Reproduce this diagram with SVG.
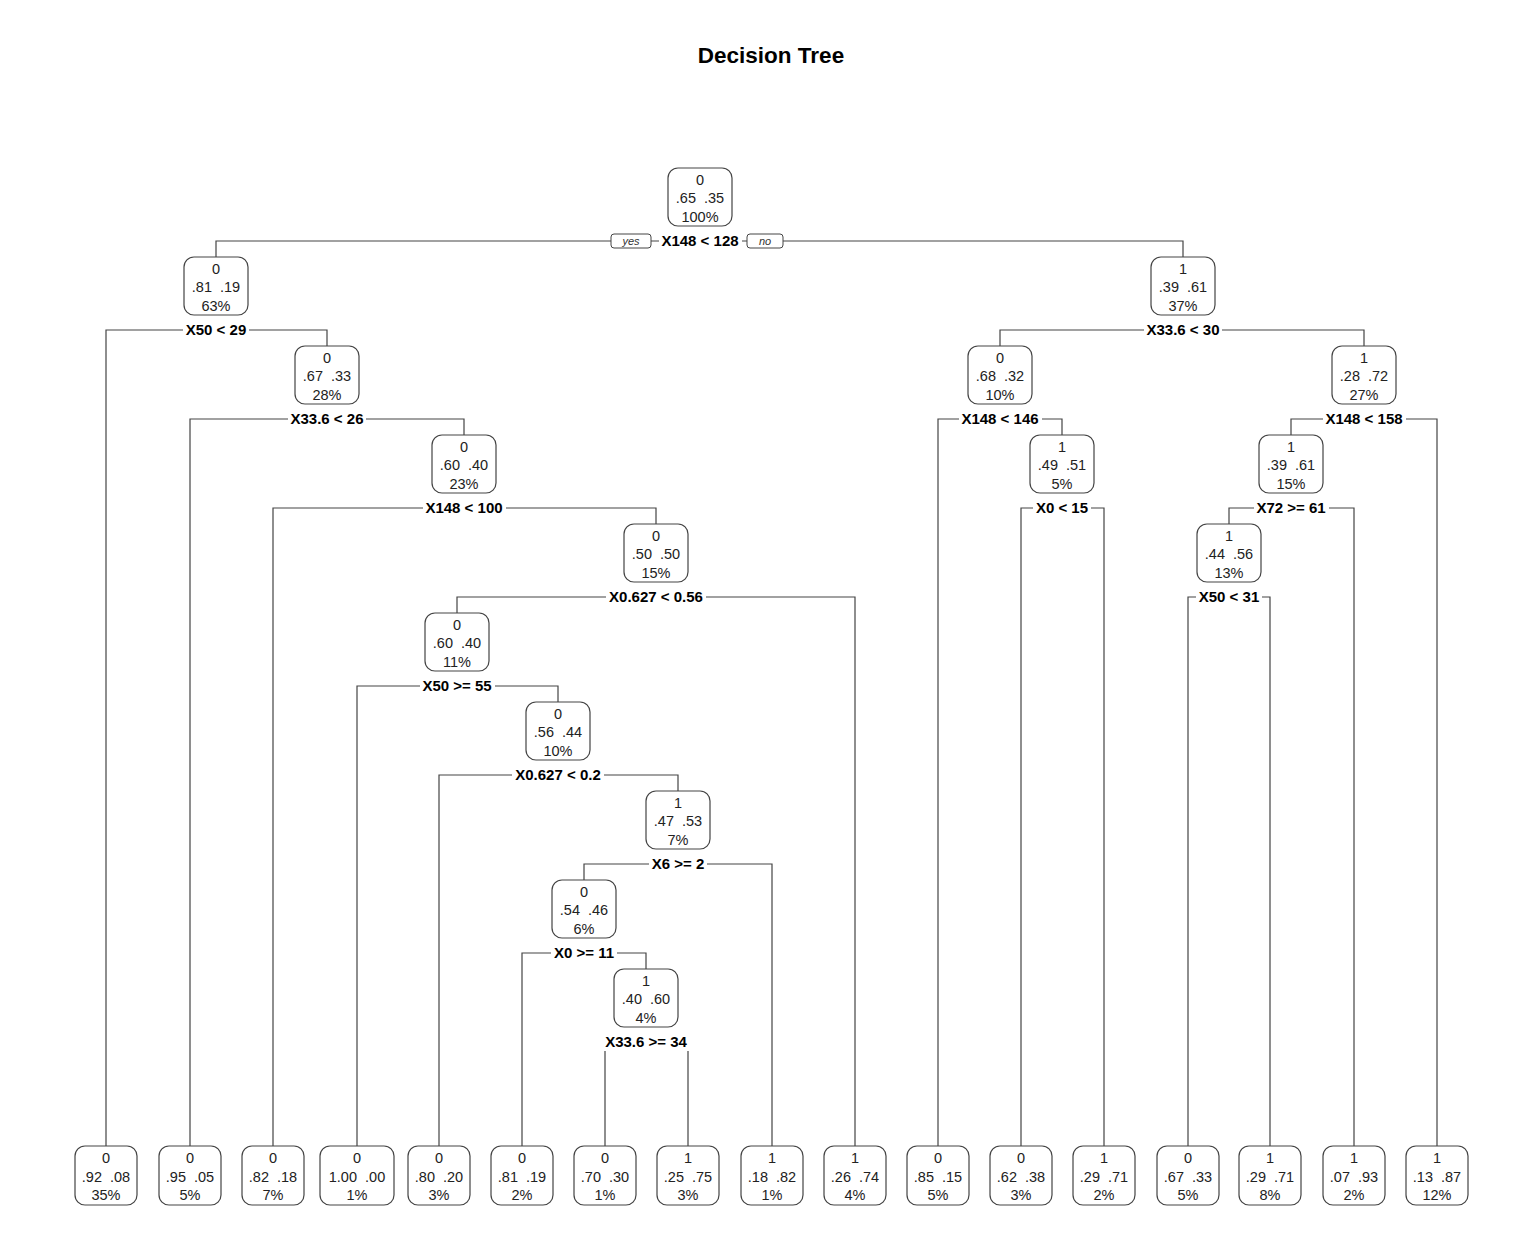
<svg xmlns="http://www.w3.org/2000/svg" width="1522" height="1246" viewBox="0 0 1522 1246">
<style>
.bg{fill:#ffffff}
.title{font-family:"Liberation Sans",Arial,sans-serif;font-size:22.5px;font-weight:bold;fill:#000;text-anchor:middle}
.box{fill:#ffffff;stroke:#444;stroke-width:1.2}
.nt{font-family:"Liberation Sans",Arial,sans-serif;font-size:14.5px;fill:#222;text-anchor:middle}
.cn{fill:none;stroke:#444;stroke-width:1.2}
.lb{font-family:"Liberation Sans",Arial,sans-serif;font-size:15px;font-weight:bold;fill:#000;text-anchor:middle}
.lbbg{fill:#ffffff}
.yn{fill:#ffffff;stroke:#444;stroke-width:1}
.ynt{font-family:"Liberation Sans",Arial,sans-serif;font-size:11px;font-style:italic;fill:#333;text-anchor:middle}
</style>
<rect class="bg" x="0" y="0" width="1522" height="1246"/>
<text class="title" x="771" y="63">Decision Tree</text>

<g id="connectors">
<path class="cn" d="M216,257V241H1183V257"/>
<path class="cn" d="M106,1146V330H327V346"/>
<path class="cn" d="M190,1146V419H464V435"/>
<path class="cn" d="M273,1146V508H656V524"/>
<path class="cn" d="M457,613V597H855V1146"/>
<path class="cn" d="M357,1146V686H558V702"/>
<path class="cn" d="M439,1146V775H678V791"/>
<path class="cn" d="M584,880V864H772V1146"/>
<path class="cn" d="M522,1146V953H646V969"/>
<path class="cn" d="M605,1146V1042H688V1146"/>
<path class="cn" d="M1000,346V330H1364V346"/>
<path class="cn" d="M938,1146V419H1062V435"/>
<path class="cn" d="M1021,1146V508H1104V1146"/>
<path class="cn" d="M1291,435V419H1437V1146"/>
<path class="cn" d="M1229,524V508H1354V1146"/>
<path class="cn" d="M1188,1146V597H1270V1146"/>
</g>

<g id="split-labels">
<g id="lab-root"><rect class="lbbg" x="659" y="232" width="83" height="18"/><text class="lb" x="700" y="246">X148 &lt; 128</text>
<rect class="yn" x="611" y="234" width="40" height="14" rx="3"/><text class="ynt" x="631" y="245">yes</text>
<rect class="yn" x="747" y="234" width="36" height="14" rx="3"/><text class="ynt" x="765" y="245">no</text></g>
<g id="lab-n2"><rect class="lbbg" x="183" y="321" width="66" height="18"/><text class="lb" x="216" y="335">X50 &lt; 29</text></g>
<g id="lab-n5"><rect class="lbbg" x="288" y="410" width="78" height="18"/><text class="lb" x="327" y="424">X33.6 &lt; 26</text></g>
<g id="lab-n11"><rect class="lbbg" x="423" y="499" width="83" height="18"/><text class="lb" x="464" y="513">X148 &lt; 100</text></g>
<g id="lab-n23"><rect class="lbbg" x="606" y="588" width="100" height="18"/><text class="lb" x="656" y="602">X0.627 &lt; 0.56</text></g>
<g id="lab-n46"><rect class="lbbg" x="420" y="677" width="75" height="18"/><text class="lb" x="457" y="691">X50 &gt;= 55</text></g>
<g id="lab-n93"><rect class="lbbg" x="512" y="766" width="92" height="18"/><text class="lb" x="558" y="780">X0.627 &lt; 0.2</text></g>
<g id="lab-n187"><rect class="lbbg" x="649" y="855" width="58" height="18"/><text class="lb" x="678" y="869">X6 &gt;= 2</text></g>
<g id="lab-n374"><rect class="lbbg" x="551" y="944" width="66" height="18"/><text class="lb" x="584" y="958">X0 &gt;= 11</text></g>
<g id="lab-n749"><rect class="lbbg" x="602" y="1033" width="88" height="18"/><text class="lb" x="646" y="1047">X33.6 &gt;= 34</text></g>
<g id="lab-n3"><rect class="lbbg" x="1144" y="321" width="78" height="18"/><text class="lb" x="1183" y="335">X33.6 &lt; 30</text></g>
<g id="lab-n6"><rect class="lbbg" x="959" y="410" width="83" height="18"/><text class="lb" x="1000" y="424">X148 &lt; 146</text></g>
<g id="lab-n13"><rect class="lbbg" x="1033" y="499" width="58" height="18"/><text class="lb" x="1062" y="513">X0 &lt; 15</text></g>
<g id="lab-n7"><rect class="lbbg" x="1323" y="410" width="83" height="18"/><text class="lb" x="1364" y="424">X148 &lt; 158</text></g>
<g id="lab-n14"><rect class="lbbg" x="1254" y="499" width="75" height="18"/><text class="lb" x="1291" y="513">X72 &gt;= 61</text></g>
<g id="lab-n28"><rect class="lbbg" x="1196" y="588" width="66" height="18"/><text class="lb" x="1229" y="602">X50 &lt; 31</text></g>
</g>

<g id="node-root"><rect class="box" x="668" y="168" width="64" height="58" rx="10"/><text class="nt" x="700" y="185">0</text><text class="nt" x="700" y="203">.65&#160;&#160;.35</text><text class="nt" x="700" y="222">100%</text></g>
<g id="node-2"><rect class="box" x="184" y="257" width="64" height="58" rx="10"/><text class="nt" x="216" y="274">0</text><text class="nt" x="216" y="292">.81&#160;&#160;.19</text><text class="nt" x="216" y="311">63%</text></g>
<g id="node-3"><rect class="box" x="1151" y="257" width="64" height="58" rx="10"/><text class="nt" x="1183" y="274">1</text><text class="nt" x="1183" y="292">.39&#160;&#160;.61</text><text class="nt" x="1183" y="311">37%</text></g>
<g id="node-5"><rect class="box" x="295" y="346" width="64" height="58" rx="10"/><text class="nt" x="327" y="363">0</text><text class="nt" x="327" y="381">.67&#160;&#160;.33</text><text class="nt" x="327" y="400">28%</text></g>
<g id="node-6"><rect class="box" x="968" y="346" width="64" height="58" rx="10"/><text class="nt" x="1000" y="363">0</text><text class="nt" x="1000" y="381">.68&#160;&#160;.32</text><text class="nt" x="1000" y="400">10%</text></g>
<g id="node-7"><rect class="box" x="1332" y="346" width="64" height="58" rx="10"/><text class="nt" x="1364" y="363">1</text><text class="nt" x="1364" y="381">.28&#160;&#160;.72</text><text class="nt" x="1364" y="400">27%</text></g>
<g id="node-11"><rect class="box" x="432" y="435" width="64" height="58" rx="10"/><text class="nt" x="464" y="452">0</text><text class="nt" x="464" y="470">.60&#160;&#160;.40</text><text class="nt" x="464" y="489">23%</text></g>
<g id="node-13"><rect class="box" x="1030" y="435" width="64" height="58" rx="10"/><text class="nt" x="1062" y="452">1</text><text class="nt" x="1062" y="470">.49&#160;&#160;.51</text><text class="nt" x="1062" y="489">5%</text></g>
<g id="node-14"><rect class="box" x="1259" y="435" width="64" height="58" rx="10"/><text class="nt" x="1291" y="452">1</text><text class="nt" x="1291" y="470">.39&#160;&#160;.61</text><text class="nt" x="1291" y="489">15%</text></g>
<g id="node-23"><rect class="box" x="624" y="524" width="64" height="58" rx="10"/><text class="nt" x="656" y="541">0</text><text class="nt" x="656" y="559">.50&#160;&#160;.50</text><text class="nt" x="656" y="578">15%</text></g>
<g id="node-28"><rect class="box" x="1197" y="524" width="64" height="58" rx="10"/><text class="nt" x="1229" y="541">1</text><text class="nt" x="1229" y="559">.44&#160;&#160;.56</text><text class="nt" x="1229" y="578">13%</text></g>
<g id="node-46"><rect class="box" x="425" y="613" width="64" height="58" rx="10"/><text class="nt" x="457" y="630">0</text><text class="nt" x="457" y="648">.60&#160;&#160;.40</text><text class="nt" x="457" y="667">11%</text></g>
<g id="node-93"><rect class="box" x="526" y="702" width="64" height="58" rx="10"/><text class="nt" x="558" y="719">0</text><text class="nt" x="558" y="737">.56&#160;&#160;.44</text><text class="nt" x="558" y="756">10%</text></g>
<g id="node-187"><rect class="box" x="646" y="791" width="64" height="58" rx="10"/><text class="nt" x="678" y="808">1</text><text class="nt" x="678" y="826">.47&#160;&#160;.53</text><text class="nt" x="678" y="845">7%</text></g>
<g id="node-374"><rect class="box" x="552" y="880" width="64" height="58" rx="10"/><text class="nt" x="584" y="897">0</text><text class="nt" x="584" y="915">.54&#160;&#160;.46</text><text class="nt" x="584" y="934">6%</text></g>
<g id="node-749"><rect class="box" x="614" y="969" width="64" height="58" rx="10"/><text class="nt" x="646" y="986">1</text><text class="nt" x="646" y="1004">.40&#160;&#160;.60</text><text class="nt" x="646" y="1023">4%</text></g>

<g id="leaf-1"><rect class="box" x="75" y="1146" width="62" height="59" rx="10"/><text class="nt" x="106" y="1163">0</text><text class="nt" x="106" y="1182">.92&#160;&#160;.08</text><text class="nt" x="106" y="1200">35%</text></g>
<g id="leaf-2"><rect class="box" x="159" y="1146" width="62" height="59" rx="10"/><text class="nt" x="190" y="1163">0</text><text class="nt" x="190" y="1182">.95&#160;&#160;.05</text><text class="nt" x="190" y="1200">5%</text></g>
<g id="leaf-3"><rect class="box" x="242" y="1146" width="62" height="59" rx="10"/><text class="nt" x="273" y="1163">0</text><text class="nt" x="273" y="1182">.82&#160;&#160;.18</text><text class="nt" x="273" y="1200">7%</text></g>
<g id="leaf-4"><rect class="box" x="320" y="1146" width="74" height="59" rx="10"/><text class="nt" x="357" y="1163">0</text><text class="nt" x="357" y="1182">1.00&#160;&#160;.00</text><text class="nt" x="357" y="1200">1%</text></g>
<g id="leaf-5"><rect class="box" x="408" y="1146" width="62" height="59" rx="10"/><text class="nt" x="439" y="1163">0</text><text class="nt" x="439" y="1182">.80&#160;&#160;.20</text><text class="nt" x="439" y="1200">3%</text></g>
<g id="leaf-6"><rect class="box" x="491" y="1146" width="62" height="59" rx="10"/><text class="nt" x="522" y="1163">0</text><text class="nt" x="522" y="1182">.81&#160;&#160;.19</text><text class="nt" x="522" y="1200">2%</text></g>
<g id="leaf-7"><rect class="box" x="574" y="1146" width="62" height="59" rx="10"/><text class="nt" x="605" y="1163">0</text><text class="nt" x="605" y="1182">.70&#160;&#160;.30</text><text class="nt" x="605" y="1200">1%</text></g>
<g id="leaf-8"><rect class="box" x="657" y="1146" width="62" height="59" rx="10"/><text class="nt" x="688" y="1163">1</text><text class="nt" x="688" y="1182">.25&#160;&#160;.75</text><text class="nt" x="688" y="1200">3%</text></g>
<g id="leaf-9"><rect class="box" x="741" y="1146" width="62" height="59" rx="10"/><text class="nt" x="772" y="1163">1</text><text class="nt" x="772" y="1182">.18&#160;&#160;.82</text><text class="nt" x="772" y="1200">1%</text></g>
<g id="leaf-10"><rect class="box" x="824" y="1146" width="62" height="59" rx="10"/><text class="nt" x="855" y="1163">1</text><text class="nt" x="855" y="1182">.26&#160;&#160;.74</text><text class="nt" x="855" y="1200">4%</text></g>
<g id="leaf-11"><rect class="box" x="907" y="1146" width="62" height="59" rx="10"/><text class="nt" x="938" y="1163">0</text><text class="nt" x="938" y="1182">.85&#160;&#160;.15</text><text class="nt" x="938" y="1200">5%</text></g>
<g id="leaf-12"><rect class="box" x="990" y="1146" width="62" height="59" rx="10"/><text class="nt" x="1021" y="1163">0</text><text class="nt" x="1021" y="1182">.62&#160;&#160;.38</text><text class="nt" x="1021" y="1200">3%</text></g>
<g id="leaf-13"><rect class="box" x="1073" y="1146" width="62" height="59" rx="10"/><text class="nt" x="1104" y="1163">1</text><text class="nt" x="1104" y="1182">.29&#160;&#160;.71</text><text class="nt" x="1104" y="1200">2%</text></g>
<g id="leaf-14"><rect class="box" x="1157" y="1146" width="62" height="59" rx="10"/><text class="nt" x="1188" y="1163">0</text><text class="nt" x="1188" y="1182">.67&#160;&#160;.33</text><text class="nt" x="1188" y="1200">5%</text></g>
<g id="leaf-15"><rect class="box" x="1239" y="1146" width="62" height="59" rx="10"/><text class="nt" x="1270" y="1163">1</text><text class="nt" x="1270" y="1182">.29&#160;&#160;.71</text><text class="nt" x="1270" y="1200">8%</text></g>
<g id="leaf-16"><rect class="box" x="1323" y="1146" width="62" height="59" rx="10"/><text class="nt" x="1354" y="1163">1</text><text class="nt" x="1354" y="1182">.07&#160;&#160;.93</text><text class="nt" x="1354" y="1200">2%</text></g>
<g id="leaf-17"><rect class="box" x="1406" y="1146" width="62" height="59" rx="10"/><text class="nt" x="1437" y="1163">1</text><text class="nt" x="1437" y="1182">.13&#160;&#160;.87</text><text class="nt" x="1437" y="1200">12%</text></g>
</svg>
